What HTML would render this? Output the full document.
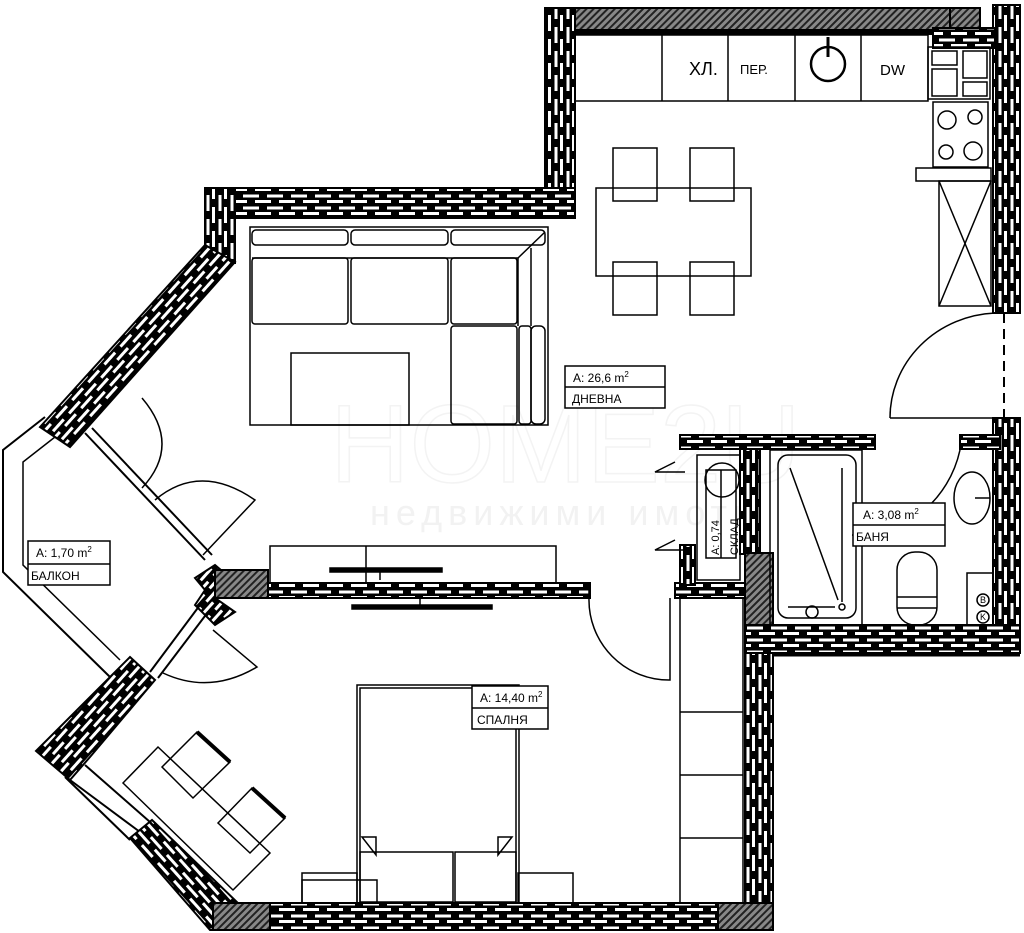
<!DOCTYPE html>
<html><head><meta charset="utf-8"><style>
html,body{margin:0;padding:0;background:#fff;}
svg{display:block;}
text{font-family:"Liberation Sans","DejaVu Sans",sans-serif;}
</style></head><body>
<svg width="1024" height="933" viewBox="0 0 1024 933" xmlns="http://www.w3.org/2000/svg">
<defs>
<pattern id="brH" width="24" height="12" patternUnits="userSpaceOnUse">
<rect width="24" height="12" fill="#000"/>
<rect x="3" y="2.5" width="16" height="3" fill="#fff"/>
<rect x="-9" y="8" width="16" height="3" fill="#fff"/>
<rect x="15" y="8" width="16" height="3" fill="#fff"/>
</pattern>
<pattern id="brV" width="12" height="24" patternUnits="userSpaceOnUse">
<rect width="12" height="24" fill="#000"/>
<rect x="2.5" y="3" width="3" height="16" fill="#fff"/>
<rect x="8" y="-9" width="3" height="16" fill="#fff"/>
<rect x="8" y="15" width="3" height="16" fill="#fff"/>
</pattern>
<pattern id="brD1" width="24" height="12" patternUnits="userSpaceOnUse" patternTransform="rotate(-48)">
<rect width="24" height="12" fill="#000"/>
<rect x="3" y="2.5" width="16" height="3" fill="#fff"/>
<rect x="-9" y="8" width="16" height="3" fill="#fff"/>
<rect x="15" y="8" width="16" height="3" fill="#fff"/>
</pattern>
<pattern id="brD2" width="24" height="12" patternUnits="userSpaceOnUse" patternTransform="rotate(48)">
<rect width="24" height="12" fill="#000"/>
<rect x="3" y="2.5" width="16" height="3" fill="#fff"/>
<rect x="-9" y="8" width="16" height="3" fill="#fff"/>
<rect x="15" y="8" width="16" height="3" fill="#fff"/>
</pattern>
<pattern id="hat" width="5" height="5" patternUnits="userSpaceOnUse" patternTransform="rotate(45)">
<rect width="5" height="5" fill="#888"/>
<rect width="2" height="5" fill="#222"/>
</pattern>
</defs>

<!-- watermark -->
<text x="330" y="482" font-size="110" fill="none" stroke="#f3f3f3" stroke-width="1.5">HOME2U</text>
<text x="370" y="525" font-size="36" fill="#f2f2f2" letter-spacing="6">недвижими имоти</text>

<g stroke="#000" fill="none" stroke-width="2">
<rect x="545" y="8" width="433" height="24" fill="url(#hat)"/>
<rect x="545" y="8" width="30" height="210" fill="url(#brV)"/>
<rect x="950" y="8" width="30" height="24" fill="url(#hat)"/>
<rect x="575" y="30" width="358" height="4" fill="#000"/>
<rect x="993" y="5" width="27" height="308" fill="url(#brV)"/>
<rect x="933" y="28" width="62" height="20" fill="url(#brH)"/>
<rect x="993" y="418" width="27" height="232" fill="url(#brV)"/>
<line x1="1004" y1="313" x2="1004" y2="418" stroke-dasharray="10,6"/>
<rect x="205" y="188" width="370" height="30" fill="url(#brH)"/>
<rect x="205" y="188" width="30" height="75" fill="url(#brV)"/>
<polygon points="205,245 235,262 70,447 40,427" fill="url(#brD1)"/>
<polyline points="45,417 3,450 3,572 110,677" stroke-width="2"/>
<polyline points="55,437 23,462 23,565 120,660" stroke-width="1.5"/>
<!-- upper window & doors -->
<line x1="85" y1="433" x2="205" y2="560"/><line x1="92" y1="428" x2="212" y2="555"/>
<path d="M142,398 Q182,445 142,488" stroke-width="1.5"/>
<line x1="142" y1="398" x2="142" y2="488" stroke-width="1.5" opacity="0"/>
<path d="M155,500 Q200,462 255,500 L203,555" stroke-width="1.5"/>
<polygon points="195,578 215,565 235,582 215,598 235,612 215,625 195,605 205,590" fill="url(#brD1)"/>
<rect x="215" y="570" width="53" height="28" fill="url(#hat)"/>
<!-- lower window -->
<line x1="200" y1="605" x2="150" y2="672"/><line x1="208" y1="612" x2="158" y2="678"/>
<path d="M163,673 Q210,695 257,667 L213,630" stroke-width="1.5"/>
<polygon points="130,657 155,680 90,757 70,780 36,751" fill="url(#brD1)"/>
<line x1="70" y1="780" x2="140" y2="832"/><line x1="85" y1="765" x2="150" y2="822"/>
<line x1="65" y1="777" x2="130" y2="840"/>
<polygon points="130,838 152,820 240,905 240,930 210,930" fill="url(#brD2)"/>
<rect x="213" y="903" width="560" height="27" fill="url(#brH)"/>
<rect x="213" y="903" width="57" height="27" fill="url(#hat)"/>
<rect x="718" y="903" width="55" height="27" fill="url(#hat)"/>
<rect x="268" y="583" width="322" height="15" fill="url(#brH)"/>
<rect x="675" y="583" width="72" height="15" fill="url(#brH)"/>
<rect x="680" y="545" width="15" height="40" fill="url(#brV)"/>
<rect x="680" y="435" width="195" height="14" fill="url(#brH)"/>
<rect x="740" y="449" width="20" height="105" fill="url(#brV)"/>
<rect x="745" y="553" width="28" height="72" fill="url(#hat)"/>
<rect x="960" y="435" width="40" height="14" fill="url(#brH)"/>
<rect x="745" y="625" width="275" height="28" fill="url(#brH)"/>
<rect x="745" y="653" width="28" height="250" fill="url(#brV)"/>
<line x1="773" y1="655" x2="1020" y2="655" stroke-width="3"/>
</g>

<g stroke="#000" fill="none" stroke-width="1.5">
<rect x="575" y="35" width="353" height="66"/>
<line x1="662" y1="35" x2="662" y2="101"/><line x1="728" y1="35" x2="728" y2="101"/>
<line x1="795" y1="35" x2="795" y2="101"/><line x1="861" y1="35" x2="861" y2="101"/>
<circle cx="828" cy="64" r="17" stroke-width="2.5"/><line x1="828" y1="37" x2="828" y2="57" stroke-width="3"/>
<rect x="928" y="47" width="62" height="52"/>
<rect x="932" y="51" width="25" height="14"/><rect x="932" y="69" width="25" height="27"/>
<rect x="963" y="51" width="24" height="27"/><rect x="963" y="82" width="24" height="14"/>
<rect x="933" y="102" width="55" height="65"/>
<circle cx="947" cy="120" r="9"/><circle cx="975" cy="117" r="7"/>
<circle cx="946" cy="152" r="7"/><circle cx="973" cy="151" r="9"/>
<rect x="916" y="168" width="75" height="13"/>
<rect x="939" y="181" width="52" height="125"/>
<line x1="939" y1="181" x2="991" y2="306"/><line x1="991" y1="181" x2="939" y2="306"/>
<path d="M890,418 L1000,418 M890,418 A110,105 0 0 1 995,313"/>
<rect x="596" y="188" width="155" height="88"/>
<rect x="613" y="148" width="44" height="53"/><rect x="690" y="148" width="44" height="53"/>
<rect x="613" y="262" width="44" height="53"/><rect x="690" y="262" width="44" height="53"/>
<rect x="250" y="227" width="298" height="198"/>
<rect x="252" y="230" width="96" height="15" rx="4"/><rect x="351" y="230" width="97" height="15" rx="4"/>
<rect x="451" y="230" width="94" height="15" rx="4"/>
<rect x="252" y="258" width="96" height="66" rx="3"/><rect x="351" y="258" width="97" height="66" rx="3"/>
<rect x="451" y="258" width="66" height="66" rx="3"/><rect x="451" y="326" width="66" height="98" rx="3"/>
<rect x="519" y="326" width="12" height="98" rx="3"/><rect x="531" y="326" width="14" height="98" rx="5"/>
<line x1="252" y1="258" x2="518" y2="258"/><line x1="518" y1="258" x2="545" y2="232"/>
<line x1="518" y1="258" x2="518" y2="326"/><line x1="531" y1="248" x2="531" y2="326"/>
<rect x="291" y="353" width="118" height="72"/>
<rect x="270" y="546" width="286" height="37"/><line x1="366" y1="546" x2="366" y2="583"/>
<rect x="330" y="568" width="112" height="4" fill="#000"/><line x1="380" y1="572" x2="380" y2="580"/>
<rect x="352" y="605" width="140" height="4" fill="#000"/><line x1="420" y1="599" x2="420" y2="605"/>
<path d="M589,598 L589,590 M589,598 A80,80 0 0 0 670,680 L670,598"/>
<rect x="357" y="685" width="162" height="218"/><rect x="360" y="688" width="156" height="215"/>
<rect x="360" y="852" width="93" height="50"/><rect x="455" y="852" width="61" height="50"/>
<polygon points="362,837 376,837 376,855"/><polygon points="498,837 512,837 498,855"/>
<rect x="302" y="873" width="55" height="30"/><rect x="518" y="873" width="55" height="30"/>
<rect x="302" y="880" width="75" height="23"/>
<rect x="680" y="598" width="63" height="305"/>
<line x1="680" y1="712" x2="743" y2="712"/><line x1="680" y1="775" x2="743" y2="775"/><line x1="680" y1="838" x2="743" y2="838"/>
<!-- desk & chairs -->
<polygon points="123,783 158,747 270,853 233,890"/>
<polygon points="162,767 197,732 230,762 193,798"/>
<polygon points="218,823 252,788 285,818 250,853"/>
<line x1="197" y1="732" x2="230" y2="762" stroke-width="4"/>
<line x1="252" y1="788" x2="285" y2="818" stroke-width="4"/>
<rect x="697" y="455" width="43" height="125"/>
<rect x="706" y="470" width="30" height="88"/><line x1="721" y1="470" x2="721" y2="558"/>
<circle cx="722" cy="480" r="17"/>
<polyline points="675,462 655,472 685,472"/><polyline points="675,540 655,550 683,550"/>
<rect x="770" y="450" width="92" height="175"/>
<rect x="778" y="455" width="78" height="163" rx="10"/>
<line x1="790" y1="468" x2="838" y2="600"/><line x1="842" y1="468" x2="842" y2="602"/>
<line x1="788" y1="607" x2="835" y2="607"/><circle cx="842" cy="607" r="3"/>
<circle cx="812" cy="612" r="6"/>
<rect x="897" y="552" width="40" height="73" rx="18"/><line x1="897" y1="597" x2="937" y2="597"/><line x1="897" y1="608" x2="937" y2="608"/>
<ellipse cx="972" cy="498" rx="18" ry="26"/><line x1="975" y1="498" x2="990" y2="498"/>
<path d="M960,450 A105,110 0 0 1 852,535"/>
<rect x="967" y="573" width="26" height="52"/>
<circle cx="983" cy="600" r="6"/><circle cx="983" cy="617" r="6"/>
</g>
<g font-size="9" text-anchor="middle"><text x="983" y="603">B</text><text x="983" y="620">K</text></g>

<g font-size="18"><text x="689" y="75">ХЛ.</text><text x="880" y="75" font-size="15">DW</text></g>
<text x="740" y="74" font-size="13">ПЕР.</text>

<g stroke="#000" fill="#fff" stroke-width="1.5">
<rect x="565" y="366" width="100" height="42"/><line x1="565" y1="387" x2="665" y2="387"/>
<rect x="28" y="541" width="82" height="44"/><line x1="28" y1="564" x2="110" y2="564"/>
<rect x="472" y="686" width="76" height="43"/><line x1="472" y1="708" x2="548" y2="708"/>
<rect x="853" y="503" width="92" height="43"/><line x1="853" y1="525" x2="945" y2="525"/>
</g>
<g font-size="12">
<text x="573" y="382">A: 26,6 m<tspan font-size="8" dy="-5">2</tspan></text>
<text x="572" y="403">ДНЕВНА</text>
<text x="36" y="557">A: 1,70 m<tspan font-size="8" dy="-5">2</tspan></text>
<text x="31" y="580">БАЛКОН</text>
<text x="480" y="702">A: 14,40 m<tspan font-size="8" dy="-5">2</tspan></text>
<text x="477" y="724">СПАЛНЯ</text>
<text x="863" y="519">A: 3,08 m<tspan font-size="8" dy="-5">2</tspan></text>
<text x="856" y="541">БАНЯ</text>
<text transform="translate(719,555) rotate(-90)" font-size="11">A: 0,74</text>
<text transform="translate(738,555) rotate(-90)" font-size="11">СКЛАД</text>
</g>
</svg>
</body></html>
